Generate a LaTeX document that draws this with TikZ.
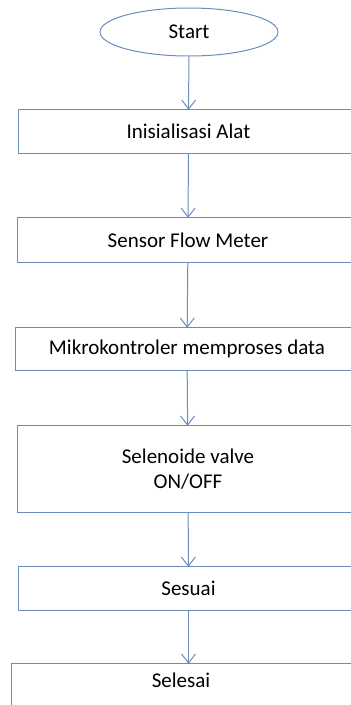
\documentclass[tikz,border=0pt]{standalone}
\usepackage{fontspec}
\setmainfont{Carlito}
\usetikzlibrary{arrows.meta, positioning, shapes.geometric}
\definecolor{flowline}{HTML}{6A8DC0}

\begin{document}
\begin{tikzpicture}[x=1pt, y=-1pt,
        snode/.style={ellipse, draw=flowline, line width=1pt,
                      minimum width=178pt, minimum height=48pt,
                      font=\fontsize{21}{25}\selectfont, inner sep=0pt},
        pbox/.style={rectangle, minimum width=339pt, minimum height=43pt,
                     font=\fontsize{21}{25}\selectfont, align=center,
                     inner sep=0pt},
        boxline/.style={draw=flowline, line width=1pt},
        >={Straight Barb[length=9pt, width=14pt]}
    ]
        \useasboundingbox (0,0) rectangle (351,705);

        \node[snode] (start) at (189, 32) {Start};
        \node[pbox] (init) at (188.5, 131.5) {Inisialisasi Alat};
        \node[pbox, minimum width=340pt, minimum height=44pt] (sensor) at (188, 240)
            {Sensor Flow Meter};
        \node[pbox, minimum width=342pt, minimum height=42pt] (mikro) at (187, 349)
            {Mikrokontroler memproses data};
        \node[pbox, minimum width=340pt, minimum height=86pt] (valve) at (188, 469)
            {Selenoide valve\\ON/OFF};
        \node[pbox] (sesuai) at (188.5, 588.5) {Sesuai};
        \node[pbox, minimum width=338pt, minimum height=46pt] (selesai) at (181, 687)
            {\raisebox{0pt}[0pt][0pt]{Selesai}};

        % boxes run on past the right edge of the page
        \foreach \n in {init, sensor, mikro, valve, sesuai, selesai}
            \draw[boxline] (\n.north west) rectangle ([xshift=60pt]\n.south east);

        \draw[->, flowline, line width=1pt] (start) -- (init);
        \draw[->, flowline, line width=1pt] (init) -- (sensor);
        \draw[->, flowline, line width=1pt] (sensor) -- (mikro);
        \draw[->, flowline, line width=1pt] (mikro) -- (valve);
        \draw[->, flowline, line width=1pt] (valve) -- (sesuai);
        \draw[->, flowline, line width=1pt] (sesuai.south) -- (sesuai.south |- selesai.north);
    \end{tikzpicture}
\end{document}
